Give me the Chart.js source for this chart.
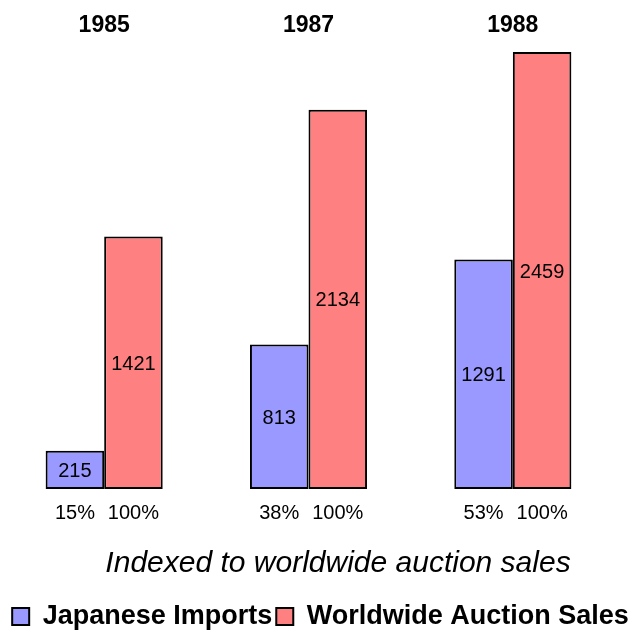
<!DOCTYPE html>
<html>
<head>
<meta charset="utf-8">
<title>Japanese Imports vs Worldwide Auction Sales</title>
<script src="https://cdn.jsdelivr.net/npm/chart.js@4/dist/chart.umd.min.js"></script>
<style>
    html, body { margin: 0; padding: 0; background: #fff; }
    #wrap { width: 639px; height: 633px; }
</style>
</head>
<body>
<div id="wrap"><canvas id="auctionChart"></canvas></div>
<script>
const years = ['1985', '1987', '1988'];
const japaneseImports = [215, 813, 1291];
const auctionSales = [1421, 2134, 2459];
const seriesNames = ['Japanese Imports', 'Worldwide Auction Sales'];
const subtitle = 'Indexed to worldwide auction sales';

const FONT = '"Liberation Sans", Arial, Helvetica, sans-serif';
Chart.defaults.font.family = FONT;
Chart.defaults.color = '#000';

// years above each pair, values inside the bars, share of auction sales below
const barLabels = {
    id: 'barLabels',
    afterLayout(chart) {
        // sit the legend row closer to the bottom edge
        chart.legend.top += 7;
        chart.legend.bottom += 7;
    },
    afterDatasetsDraw(chart) {
        const ctx = chart.ctx;
        const xScale = chart.scales.x;
        const bottom = chart.chartArea.bottom;
        ctx.save();
        ctx.fillStyle = '#000';
        ctx.textAlign = 'center';
        ctx.textBaseline = 'alphabetic';

        ctx.font = 'bold 23px ' + FONT;
        years.forEach((year, i) => {
            ctx.fillText(year, xScale.getPixelForValue(i), 32);
        });

        ctx.font = '20px ' + FONT;
        chart.data.datasets.forEach((ds, di) => {
            const meta = chart.getDatasetMeta(di);
            meta.data.forEach((bar, i) => {
                const value = ds.data[i];
                ctx.fillText(String(value), bar.x, (bar.y + bar.base) / 2 + 7);
                const pct = Math.round(value / auctionSales[i] * 100) + '%';
                ctx.fillText(pct, bar.x, bottom + 30);
            });
        });

        ctx.font = 'italic 30px ' + FONT;
        ctx.fillText(subtitle, 338, 572);
        ctx.restore();
    }
};

new Chart(document.getElementById('auctionChart'), {
    type: 'bar',
    data: {
        labels: years,
        datasets: [{
            label: seriesNames[0],
            data: japaneseImports,
            backgroundColor: '#9999ff',
            borderColor: '#000',
            borderWidth: 2,
            borderSkipped: false
        }, {
            label: seriesNames[1],
            data: auctionSales,
            backgroundColor: '#ff8080',
            borderColor: '#000',
            borderWidth: 2,
            borderSkipped: false
        }]
    },
    options: {
        responsive: true,
        maintainAspectRatio: false,
        animation: false,
        layout: {
            padding: { top: 27, left: 2, right: 0, bottom: 0 }
        },
        datasets: {
            bar: { categoryPercentage: 0.573, barPercentage: 1.0 }
        },
        scales: {
            x: {
                grid: { display: false },
                border: { display: false },
                ticks: { display: false },
                afterFit: scale => { scale.height = 103; }
            },
            y: {
                position: 'right',
                min: 0,
                max: 2600,
                grid: { display: false },
                border: { display: false },
                ticks: { display: false },
                afterFit: scale => { scale.width = 24; }
            }
        },
        plugins: {
            legend: {
                position: 'bottom',
                labels: {
                    boxWidth: 17,
                    boxHeight: 17,
                    padding: 4,
                    color: '#000',
                    font: { size: 27, weight: 'bold' }
                }
            },
            tooltip: { enabled: false }
        }
    },
    plugins: [barLabels]
});
</script>
</body>
</html>
